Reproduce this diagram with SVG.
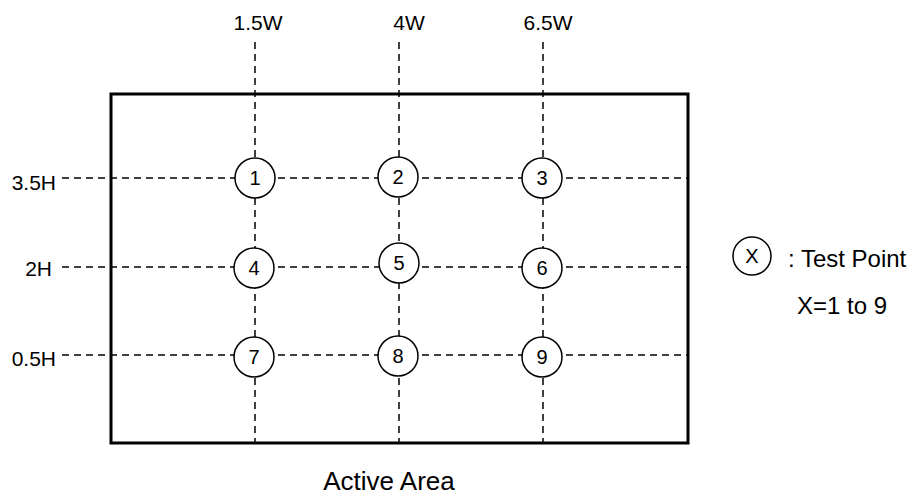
<svg xmlns="http://www.w3.org/2000/svg" width="914" height="498" viewBox="0 0 914 498">
<style>
.grid{stroke:#000;stroke-width:1.5;stroke-dasharray:7 5;fill:none}
.tp{fill:#fff;stroke:#000;stroke-width:1.5}
text{font-family:"Liberation Sans",Arial,sans-serif;fill:#000}
.lbl{font-size:21px}
.num{font-size:20px;text-anchor:middle}
</style>
<rect width="914" height="498" fill="#fff"/>
<g id="active-area">
<rect x="111" y="94" width="577" height="349" fill="none" stroke="#000" stroke-width="3"/>
</g>
<g id="connectors">
<line class="grid" x1="255" y1="42" x2="255" y2="443"/>
<line class="grid" x1="399" y1="42" x2="399" y2="443"/>
<line class="grid" x1="543" y1="42" x2="543" y2="443"/>
<line class="grid" x1="62" y1="178" x2="688" y2="178"/>
<line class="grid" x1="62" y1="267" x2="688" y2="267"/>
<line class="grid" x1="62" y1="355" x2="688" y2="355"/>
</g>
<g id="axis-labels" class="lbl">
<text x="258" y="30" text-anchor="middle">1.5W</text>
<text x="409" y="30" text-anchor="middle">4W</text>
<text x="548" y="30" text-anchor="middle">6.5W</text>
<text x="56" y="190" text-anchor="end">3.5H</text>
<text x="52" y="276" text-anchor="end">2H</text>
<text x="56" y="366" text-anchor="end">0.5H</text>
</g>
<g id="tp1"><circle class="tp" cx="255" cy="178" r="20"/><text class="num" x="255" y="185">1</text></g>
<g id="tp2"><circle class="tp" cx="398" cy="177" r="20"/><text class="num" x="398" y="184">2</text></g>
<g id="tp3"><circle class="tp" cx="542" cy="178" r="20"/><text class="num" x="542" y="185">3</text></g>
<g id="tp4"><circle class="tp" cx="254" cy="268" r="20"/><text class="num" x="254" y="275">4</text></g>
<g id="tp5"><circle class="tp" cx="399" cy="263" r="20"/><text class="num" x="399" y="270">5</text></g>
<g id="tp6"><circle class="tp" cx="542" cy="268" r="20"/><text class="num" x="542" y="275">6</text></g>
<g id="tp7"><circle class="tp" cx="254" cy="357" r="20"/><text class="num" x="254" y="364">7</text></g>
<g id="tp8"><circle class="tp" cx="398" cy="356" r="20"/><text class="num" x="398" y="363">8</text></g>
<g id="tp9"><circle class="tp" cx="542" cy="357" r="20"/><text class="num" x="542" y="364">9</text></g>
<g id="legend">
<circle class="tp" cx="752" cy="256" r="19"/>
<text class="num" x="752" y="263">X</text>
<text x="788" y="267" font-size="24">: Test Point</text>
<text x="797" y="314" font-size="24">X=1 to 9</text>
</g>
<g id="title">
<text x="389" y="490" font-size="26" text-anchor="middle">Active Area</text>
</g>
</svg>
